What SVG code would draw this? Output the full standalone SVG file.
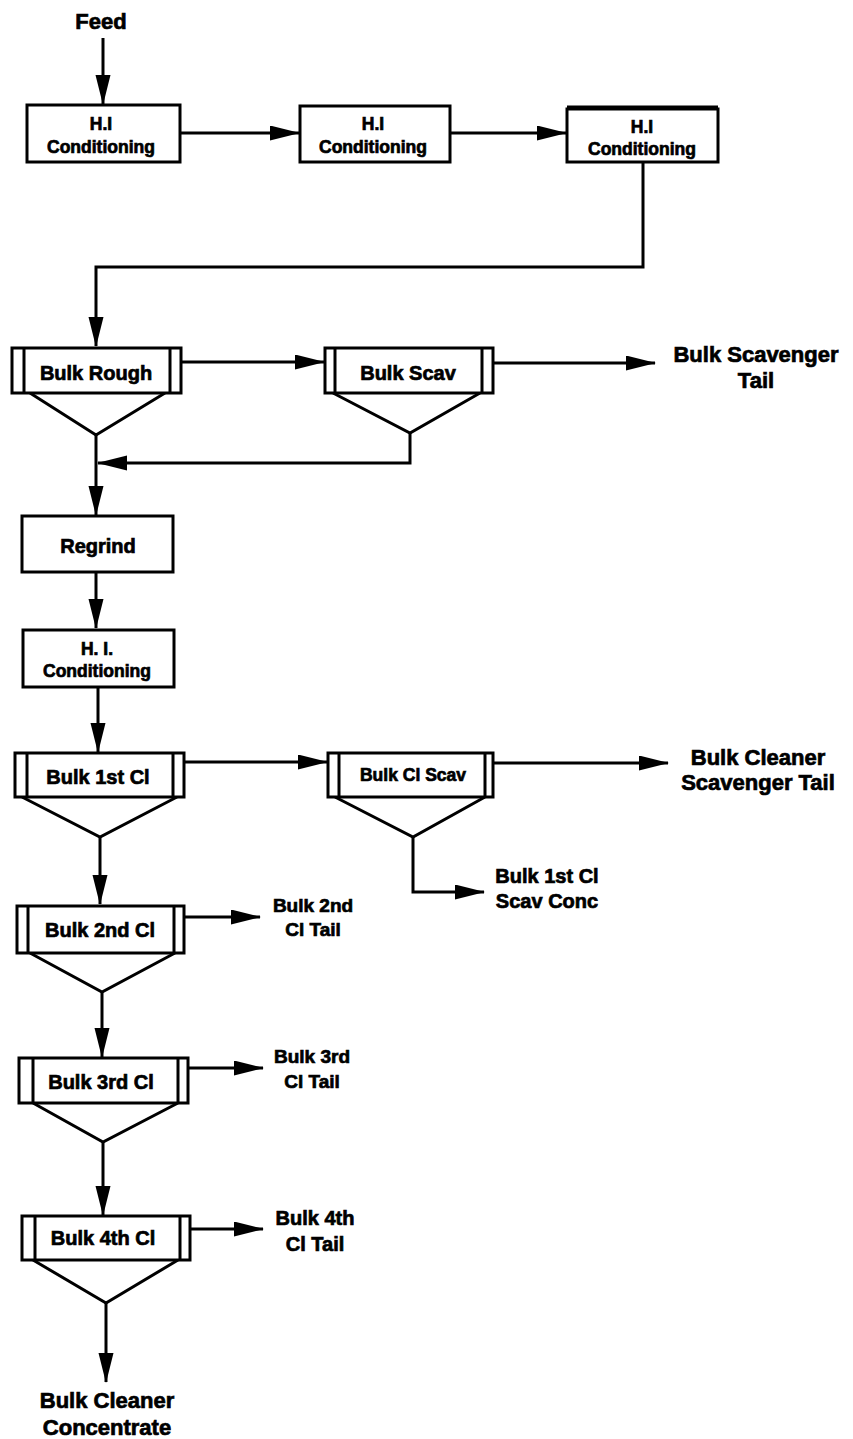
<svg xmlns="http://www.w3.org/2000/svg" width="853" height="1439" viewBox="0 0 853 1439">
<style>
text{font-family:"Liberation Sans",Arial,sans-serif;font-weight:700;fill:#000;stroke:#000;stroke-width:0.7;text-anchor:middle}
.box{fill:#fff;stroke:#000;stroke-width:3}
.ln{fill:none;stroke:#000;stroke-width:3}
.c{font-size:17.5px}
.n{font-size:20px}
.s{font-size:19px}
.o{font-size:22px}
</style>
<defs>
<marker id="ah" markerUnits="userSpaceOnUse" markerWidth="30" markerHeight="16" refX="29" refY="7.5" orient="auto">
<path d="M0,0 L30,7.5 L0,15 z" fill="#000"/>
</marker>
</defs>
<rect width="853" height="1439" fill="#fff"/>
<g id="connectors">
<path class="ln" d="M103,38 V104" marker-end="url(#ah)"/>
<path class="ln" d="M180,133 H299" marker-end="url(#ah)"/>
<path class="ln" d="M450,133 H566" marker-end="url(#ah)"/>
<path class="ln" d="M643,162 V267 H96 V346" marker-end="url(#ah)"/>
<path class="ln" d="M181,362 H324" marker-end="url(#ah)"/>
<path class="ln" d="M493,363 H655" marker-end="url(#ah)"/>
<path class="ln" d="M410,433 V463 H98" marker-end="url(#ah)"/>
<path class="ln" d="M96,435 V515" marker-end="url(#ah)"/>
<path class="ln" d="M96,572 V628" marker-end="url(#ah)"/>
<path class="ln" d="M98,687 V752" marker-end="url(#ah)"/>
<path class="ln" d="M184,762 H327" marker-end="url(#ah)"/>
<path class="ln" d="M493,763 H668" marker-end="url(#ah)"/>
<path class="ln" d="M413,837 V892 H484" marker-end="url(#ah)"/>
<path class="ln" d="M100,837 V904" marker-end="url(#ah)"/>
<path class="ln" d="M184,917 H260" marker-end="url(#ah)"/>
<path class="ln" d="M102,992 V1057" marker-end="url(#ah)"/>
<path class="ln" d="M188,1068 H263" marker-end="url(#ah)"/>
<path class="ln" d="M103,1142 V1215" marker-end="url(#ah)"/>
<path class="ln" d="M190,1229 H263" marker-end="url(#ah)"/>
<path class="ln" d="M106,1303 V1382" marker-end="url(#ah)"/>
</g>
<g id="feed"><text class="o" x="101" y="29">Feed</text></g>
<g id="hi1">
<rect class="box" x="27" y="105" width="153" height="57"/>
<text class="c" x="101" y="130">H.I</text>
<text class="c" x="101" y="153">Conditioning</text>
</g>
<g id="hi2">
<rect class="box" x="300" y="106" width="150" height="56"/>
<text class="c" x="373" y="130">H.I</text>
<text class="c" x="373" y="153">Conditioning</text>
</g>
<g id="hi3">
<rect class="box" x="567" y="109" width="151" height="53"/>
<line class="ln" x1="567" y1="107" x2="718" y2="107" stroke-width="4"/>
<text class="c" x="642" y="133">H.I</text>
<text class="c" x="642" y="155">Conditioning</text>
</g>
<g id="bulkRough">
<path class="ln" d="M30,393 L96,435 L165,393"/>
<rect class="box" x="12" y="348" width="169" height="45"/>
<path class="ln" d="M24,348 V393 M170,348 V393"/>
<text class="n" x="96" y="380">Bulk Rough</text>
</g>
<g id="bulkScav">
<path class="ln" d="M333,393 L410,433 L480,393"/>
<rect class="box" x="325" y="348" width="168" height="45"/>
<path class="ln" d="M335,348 V393 M482,348 V393"/>
<text class="n" x="408" y="380">Bulk Scav</text>
</g>
<g id="bulkScavTail">
<text class="o" x="756" y="362">Bulk Scavenger</text>
<text class="o" x="756" y="388">Tail</text>
</g>
<g id="regrind">
<rect class="box" x="22" y="516" width="151" height="56"/>
<text class="n" x="98" y="553">Regrind</text>
</g>
<g id="hi4">
<rect class="box" x="23" y="630" width="151" height="57"/>
<text class="c" x="97" y="655">H. I.</text>
<text class="c" x="97" y="677">Conditioning</text>
</g>
<g id="bulk1stCl">
<path class="ln" d="M22,797 L100,837 L177,797"/>
<rect class="box" x="15" y="753" width="169" height="44"/>
<path class="ln" d="M27,753 V797 M173,753 V797"/>
<text class="n" x="98" y="784">Bulk 1st Cl</text>
</g>
<g id="bulkClScav">
<path class="ln" d="M335,797 L413,837 L485,797"/>
<rect class="box" x="328" y="753" width="165" height="44"/>
<path class="ln" d="M339,753 V797 M485,753 V797"/>
<text class="c" x="413" y="781">Bulk Cl Scav</text>
</g>
<g id="bulkClScavTail">
<text class="o" x="758" y="765">Bulk Cleaner</text>
<text class="o" x="758" y="790">Scavenger Tail</text>
</g>
<g id="bulk1stClScavConc">
<text class="n" x="547" y="883">Bulk 1st Cl</text>
<text class="n" x="547" y="908">Scav Conc</text>
</g>
<g id="bulk2ndCl">
<path class="ln" d="M30,953 L102,992 L175,953"/>
<rect class="box" x="17" y="906" width="167" height="47"/>
<path class="ln" d="M28,906 V953 M174,906 V953"/>
<text class="n" x="100" y="937">Bulk 2nd Cl</text>
</g>
<g id="bulk2ndTail">
<text class="s" x="313" y="912">Bulk 2nd</text>
<text class="s" x="313" y="936">Cl Tail</text>
</g>
<g id="bulk3rdCl">
<path class="ln" d="M33,1103 L103,1142 L178,1103"/>
<rect class="box" x="19" y="1058" width="169" height="45"/>
<path class="ln" d="M33,1058 V1103 M178,1058 V1103"/>
<text class="n" x="101" y="1089">Bulk 3rd Cl</text>
</g>
<g id="bulk3rdTail">
<text class="s" x="312" y="1063">Bulk 3rd</text>
<text class="s" x="312" y="1088">Cl Tail</text>
</g>
<g id="bulk4thCl">
<path class="ln" d="M33,1260 L106,1303 L178,1260"/>
<rect class="box" x="22" y="1216" width="168" height="44"/>
<path class="ln" d="M35,1216 V1260 M180,1216 V1260"/>
<text class="n" x="103" y="1245">Bulk 4th Cl</text>
</g>
<g id="bulk4thTail">
<text class="n" x="315" y="1225">Bulk 4th</text>
<text class="n" x="315" y="1251">Cl Tail</text>
</g>
<g id="bulkCleanerConc">
<text class="o" x="107" y="1408">Bulk Cleaner</text>
<text class="o" x="107" y="1435">Concentrate</text>
</g>
</svg>
